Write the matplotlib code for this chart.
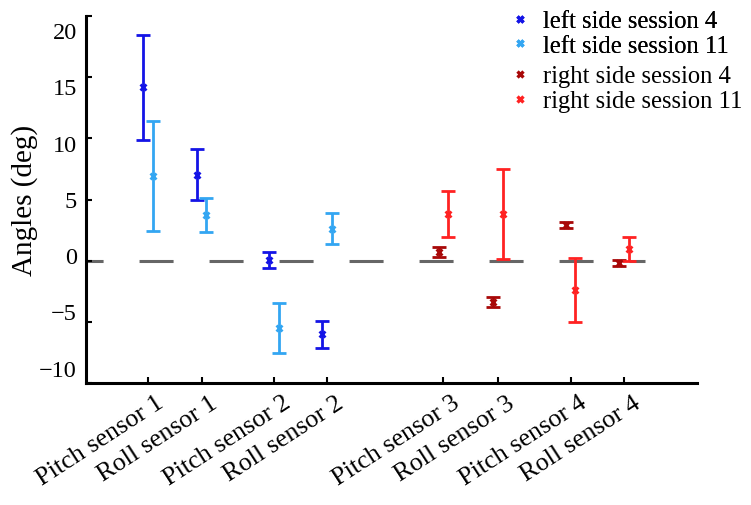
import matplotlib.pyplot as plt
import matplotlib.transforms as mtransforms
import numpy as np

plt.rcParams['font.family'] = ['Liberation Serif', 'DejaVu Serif']
plt.rcParams['lines.scale_dashes'] = False

labels = ['Pitch sensor 1', 'Roll sensor 1', 'Pitch sensor 2', 'Roll sensor 2',
          'Pitch sensor 3', 'Roll sensor 3', 'Pitch sensor 4', 'Roll sensor 4']
positions = [1, 2, 3.36, 4.35, 6.52, 7.54, 8.9, 9.9]
yticks = [-10, -5, 0, 5, 10, 15, 20]

# left side (first four sensors), right side (last four)
left_s4 = [14.2, 7.05, 0.05, -6.0]
left_s4_err = [4.3, 2.1, 0.65, 1.1]
left_s11 = [6.9, 3.77, -5.47, 2.62]
left_s11_err = [4.5, 1.4, 2.05, 1.27]
right_s4 = [0.71, -3.39, 2.9, -0.19]
right_s4_err = [0.4, 0.4, 0.25, 0.25]
right_s11 = [3.85, 3.83, -2.38, 0.96]
right_s11_err = [1.87, 3.7, 2.6, 1.0]

series = [
    ('left side session 4', positions[:4], -0.09, left_s4, left_s4_err, '#1414e6'),
    ('left side session 11', positions[:4], 0.09, left_s11, left_s11_err, '#33a6f2'),
    ('right side session 4', positions[4:], -0.09, right_s4, right_s4_err, '#a80808'),
    ('right side session 11', positions[4:], 0.09, right_s11, right_s11_err, '#ff2222'),
]

fig = plt.figure(figsize=(7.51, 5.06), dpi=100)
ax = fig.add_axes([0.1145, 0.241, 0.8135, 0.725])

# dashed zero reference
ax.plot([-0.16, 10.29], [0, 0], color='#666666', lw=2.2,
        linestyle=(12.2, (24.5, 25.9)), zorder=1, solid_capstyle='butt',
        dash_capstyle='butt')

handles = []
for name, xs, off, vals, errs, col in series:
    ax.errorbar(np.array(xs) + off, vals, yerr=errs, fmt='x', color=col,
                ms=4, mew=2, elinewidth=2, capsize=5, capthick=1.6, zorder=3)
    h, = ax.plot([], [], 'x', color=col, ms=5, mew=2.4, label=name)
    handles.append(h)

ax.set_xlim(-0.16, 11.26)
ax.set_ylim(-10, 20)
ax.set_yticks(yticks)
ax.set_yticklabels([])
ax.set_xticks(positions)
ax.set_xticklabels(labels, rotation=33, ha='right', rotation_mode='anchor')
ax.set_ylabel('Angles (deg)', fontsize=21, labelpad=31)

# tick labels in the source sit slightly squeezed toward the middle
trans = mtransforms.blended_transform_factory(ax.transAxes, ax.transData)
trans = trans + mtransforms.ScaledTranslation(-9 / 100, 0, fig.dpi_scale_trans)
for v in yticks:
    ax.text(0, 0.25 + 0.92 * v, '\u2212%d' % -v if v < 0 else '%d' % v,
            transform=trans, ha='right', va='center', fontsize=17.5)

for s in ['top', 'right']:
    ax.spines[s].set_visible(False)
for s in ['left', 'bottom']:
    ax.spines[s].set_linewidth(2.2)
ax.tick_params(direction='in', length=4, width=1.5)
ax.tick_params(axis='x', pad=6, labelsize=18.8)

# nudge rotated x labels to the right a little
shift = mtransforms.ScaledTranslation(8 / 100, 0, fig.dpi_scale_trans)
for lab in ax.get_xticklabels():
    lab.set_transform(lab.get_transform() + shift)

leg_opts = dict(loc='upper left', frameon=False, fontsize=17.7, handlelength=1.0,
                handletextpad=0.45, labelspacing=0.1, borderpad=0,
                borderaxespad=0)
leg1 = fig.legend(handles=handles[:2], bbox_to_anchor=(0.676, 0.978), **leg_opts)
fig.legend(handles=handles[2:], bbox_to_anchor=(0.676, 0.869), **leg_opts)
fig.add_artist(leg1)

fig.savefig('out.png', dpi=100)
